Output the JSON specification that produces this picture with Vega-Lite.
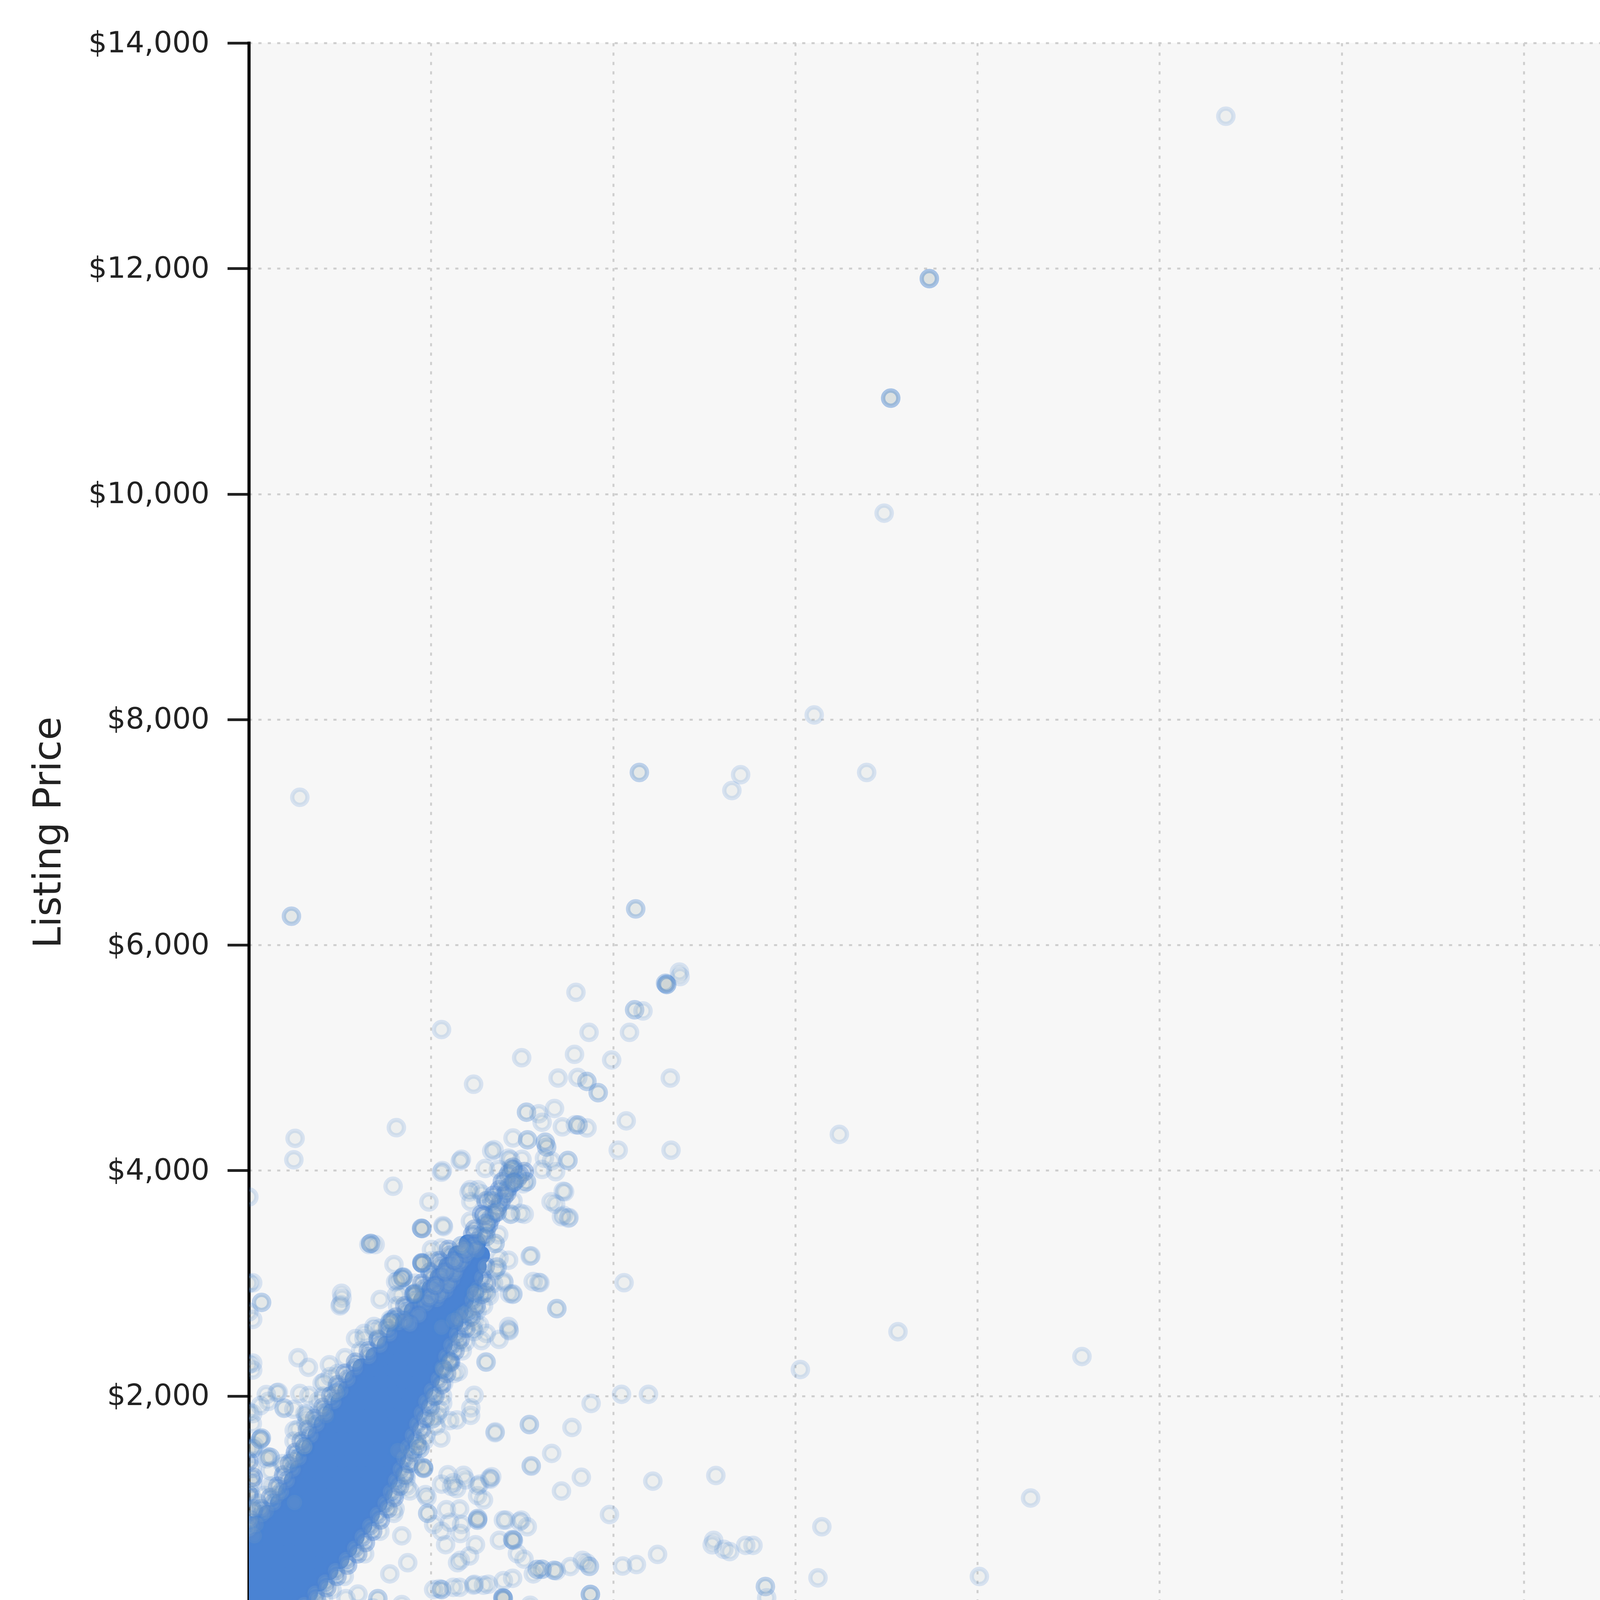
{
  "$schema": "https://vega.github.io/schema/vega-lite/v6.json",
  "width": 3721,
  "height": 4041,
  "autosize": {"type": "none"},
  "padding": {"left": 637, "top": 110, "right": 79, "bottom": 864},
  "background": "white",
  "title": {
    "text": "■parcl\u00a0\u00a0\u00a0\u00a0\u00a0\u00a0\u00a0",
    "subtitle": "labs",
    "orient": "bottom",
    "anchor": "end",
    "frame": "group",
    "font": "DejaVu Sans",
    "fontSize": 200,
    "fontWeight": "bold",
    "color": "#80a6e3",
    "subtitleFont": "DejaVu Sans",
    "subtitleFontSize": 200,
    "subtitleFontWeight": 200,
    "subtitleColor": "#555555",
    "subtitlePadding": -200,
    "offset": 150
  },
  "datasets": {
    "core": [
      {"sales":0,"listing":50},{"sales":137,"listing":50},{"sales":273,"listing":50},{"sales":410,"listing":50},{"sales":520,"listing":50},
      {"sales":0,"listing":150},{"sales":140,"listing":150},{"sales":280,"listing":150},{"sales":420,"listing":150},{"sales":560,"listing":150},{"sales":670,"listing":150},
      {"sales":0,"listing":250},{"sales":142,"listing":250},{"sales":284,"listing":250},{"sales":426,"listing":250},{"sales":568,"listing":250},{"sales":710,"listing":250},{"sales":820,"listing":250},
      {"sales":0,"listing":350},{"sales":142,"listing":350},{"sales":283,"listing":350},{"sales":425,"listing":350},{"sales":567,"listing":350},{"sales":708,"listing":350},{"sales":850,"listing":350},{"sales":960,"listing":350},
      {"sales":0,"listing":450},{"sales":141,"listing":450},{"sales":283,"listing":450},{"sales":424,"listing":450},{"sales":566,"listing":450},{"sales":707,"listing":450},{"sales":849,"listing":450},{"sales":990,"listing":450},{"sales":1100,"listing":450},
      {"sales":0,"listing":550},{"sales":143,"listing":550},{"sales":285,"listing":550},{"sales":428,"listing":550},{"sales":570,"listing":550},{"sales":713,"listing":550},{"sales":855,"listing":550},{"sales":998,"listing":550},{"sales":1140,"listing":550},{"sales":1250,"listing":550},
      {"sales":0,"listing":650},{"sales":139,"listing":650},{"sales":278,"listing":650},{"sales":417,"listing":650},{"sales":556,"listing":650},{"sales":696,"listing":650},{"sales":835,"listing":650},{"sales":974,"listing":650},{"sales":1113,"listing":650},{"sales":1252,"listing":650},{"sales":1360,"listing":650},
      {"sales":0,"listing":750},{"sales":136,"listing":750},{"sales":271,"listing":750},{"sales":407,"listing":750},{"sales":542,"listing":750},{"sales":678,"listing":750},{"sales":814,"listing":750},{"sales":949,"listing":750},{"sales":1085,"listing":750},{"sales":1220,"listing":750},{"sales":1356,"listing":750},{"sales":1460,"listing":750},
      {"sales":0,"listing":850},{"sales":110,"listing":850},{"sales":228,"listing":850},{"sales":382,"listing":850},{"sales":536,"listing":850},{"sales":690,"listing":850},{"sales":844,"listing":850},{"sales":998,"listing":850},{"sales":1152,"listing":850},{"sales":1306,"listing":850},{"sales":1460,"listing":850},{"sales":1565,"listing":850},
      {"sales":260,"listing":950},{"sales":384,"listing":950},{"sales":532,"listing":950},{"sales":680,"listing":950},{"sales":827,"listing":950},{"sales":975,"listing":950},{"sales":1123,"listing":950},{"sales":1270,"listing":950},{"sales":1418,"listing":950},{"sales":1565,"listing":950},{"sales":1670,"listing":950},
      {"sales":420,"listing":1050},{"sales":540,"listing":1050},{"sales":681,"listing":1050},{"sales":823,"listing":1050},{"sales":964,"listing":1050},{"sales":1105,"listing":1050},{"sales":1246,"listing":1050},{"sales":1388,"listing":1050},{"sales":1529,"listing":1050},{"sales":1670,"listing":1050},{"sales":1775,"listing":1050},
      {"sales":530,"listing":1150},{"sales":648,"listing":1150},{"sales":785,"listing":1150},{"sales":922,"listing":1150},{"sales":1059,"listing":1150},{"sales":1195,"listing":1150},{"sales":1332,"listing":1150},{"sales":1469,"listing":1150},{"sales":1606,"listing":1150},{"sales":1743,"listing":1150},{"sales":1845,"listing":1150},
      {"sales":610,"listing":1250},{"sales":728,"listing":1250},{"sales":864,"listing":1250},{"sales":1000,"listing":1250},{"sales":1136,"listing":1250},{"sales":1271,"listing":1250},{"sales":1407,"listing":1250},{"sales":1543,"listing":1250},{"sales":1679,"listing":1250},{"sales":1815,"listing":1250},{"sales":1915,"listing":1250},
      {"sales":690,"listing":1350},{"sales":808,"listing":1350},{"sales":942,"listing":1350},{"sales":1075,"listing":1350},{"sales":1209,"listing":1350},{"sales":1343,"listing":1350},{"sales":1477,"listing":1350},{"sales":1610,"listing":1350},{"sales":1744,"listing":1350},{"sales":1878,"listing":1350},{"sales":1980,"listing":1350},
      {"sales":770,"listing":1450},{"sales":889,"listing":1450},{"sales":1019,"listing":1450},{"sales":1149,"listing":1450},{"sales":1279,"listing":1450},{"sales":1410,"listing":1450},{"sales":1540,"listing":1450},{"sales":1670,"listing":1450},{"sales":1800,"listing":1450},{"sales":1930,"listing":1450},{"sales":2030,"listing":1450},
      {"sales":850,"listing":1550},{"sales":969,"listing":1550},{"sales":1114,"listing":1550},{"sales":1259,"listing":1550},{"sales":1404,"listing":1550},{"sales":1550,"listing":1550},{"sales":1695,"listing":1550},{"sales":1840,"listing":1550},{"sales":1985,"listing":1550},{"sales":2085,"listing":1550},
      {"sales":935,"listing":1650},{"sales":1052,"listing":1650},{"sales":1194,"listing":1650},{"sales":1336,"listing":1650},{"sales":1478,"listing":1650},{"sales":1619,"listing":1650},{"sales":1761,"listing":1650},{"sales":1903,"listing":1650},{"sales":2045,"listing":1650},{"sales":2145,"listing":1650},
      {"sales":1020,"listing":1750},{"sales":1135,"listing":1750},{"sales":1274,"listing":1750},{"sales":1413,"listing":1750},{"sales":1551,"listing":1750},{"sales":1690,"listing":1750},{"sales":1829,"listing":1750},{"sales":1967,"listing":1750},{"sales":2106,"listing":1750},{"sales":2205,"listing":1750},
      {"sales":1135,"listing":1850},{"sales":1252,"listing":1850},{"sales":1405,"listing":1850},{"sales":1557,"listing":1850},{"sales":1710,"listing":1850},{"sales":1863,"listing":1850},{"sales":2015,"listing":1850},{"sales":2168,"listing":1850},{"sales":2268,"listing":1850},
      {"sales":1250,"listing":1950},{"sales":1367,"listing":1950},{"sales":1511,"listing":1950},{"sales":1655,"listing":1950},{"sales":1799,"listing":1950},{"sales":1942,"listing":1950},{"sales":2086,"listing":1950},{"sales":2230,"listing":1950},{"sales":2330,"listing":1950},
      {"sales":1345,"listing":2050},{"sales":1462,"listing":2050},{"sales":1603,"listing":2050},{"sales":1744,"listing":2050},{"sales":1885,"listing":2050},{"sales":2026,"listing":2050},{"sales":2167,"listing":2050},{"sales":2308,"listing":2050},{"sales":2405,"listing":2050},
      {"sales":1445,"listing":2150},{"sales":1560,"listing":2150},{"sales":1700,"listing":2150},{"sales":1840,"listing":2150},{"sales":1980,"listing":2150},{"sales":2120,"listing":2150},{"sales":2260,"listing":2150},{"sales":2400,"listing":2150},{"sales":2495,"listing":2150},
      {"sales":1550,"listing":2250},{"sales":1663,"listing":2250},{"sales":1821,"listing":2250},{"sales":1979,"listing":2250},{"sales":2137,"listing":2250},{"sales":2295,"listing":2250},{"sales":2453,"listing":2250},{"sales":2550,"listing":2250},
      {"sales":1730,"listing":2350},{"sales":1846,"listing":2350},{"sales":1978,"listing":2350},{"sales":2110,"listing":2350},{"sales":2241,"listing":2350},{"sales":2373,"listing":2350},{"sales":2505,"listing":2350},{"sales":2600,"listing":2350},
      {"sales":1885,"listing":2450},{"sales":2001,"listing":2450},{"sales":2144,"listing":2450},{"sales":2287,"listing":2450},{"sales":2430,"listing":2450},{"sales":2573,"listing":2450},{"sales":2668,"listing":2450},
      {"sales":2015,"listing":2550},{"sales":2131,"listing":2550},{"sales":2261,"listing":2550},{"sales":2391,"listing":2550},{"sales":2521,"listing":2550},{"sales":2651,"listing":2550},{"sales":2745,"listing":2550},
      {"sales":2140,"listing":2650},{"sales":2255,"listing":2650},{"sales":2412,"listing":2650},{"sales":2568,"listing":2650},{"sales":2725,"listing":2650},{"sales":2818,"listing":2650},
      {"sales":2255,"listing":2750},{"sales":2368,"listing":2750},{"sales":2511,"listing":2750},{"sales":2653,"listing":2750},{"sales":2796,"listing":2750},{"sales":2888,"listing":2750},
      {"sales":2385,"listing":2850},{"sales":2496,"listing":2850},{"sales":2620,"listing":2850},{"sales":2744,"listing":2850},{"sales":2868,"listing":2850},{"sales":2960,"listing":2850},
      {"sales":2500,"listing":2950},{"sales":2611,"listing":2950},{"sales":2775,"listing":2950},{"sales":2939,"listing":2950},{"sales":3030,"listing":2950},
      {"sales":2610,"listing":3050},{"sales":2718,"listing":3050},{"sales":2858,"listing":3050},{"sales":2999,"listing":3050},{"sales":3090,"listing":3050},
      {"sales":2730,"listing":3150},{"sales":2836,"listing":3150},{"sales":2941,"listing":3150},{"sales":3046,"listing":3150},{"sales":3135,"listing":3150},
      {"sales":2860,"listing":3250},{"sales":2964,"listing":3250},{"sales":3090,"listing":3250},{"sales":3180,"listing":3250},
      {"sales":3010,"listing":3350},{"sales":3120,"listing":3350}
    ],
    "fringe": [
      {"sales":610,"listing":50},{"sales":760,"listing":150},{"sales":910,"listing":250},{"sales":1050,"listing":350},{"sales":1190,"listing":450},{"sales":1340,"listing":550},
      {"sales":1452,"listing":650},{"sales":1556,"listing":750},{"sales":1660,"listing":850},{"sales":1765,"listing":950},{"sales":1870,"listing":1050},{"sales":1943,"listing":1150},
      {"sales":2015,"listing":1250},{"sales":2078,"listing":1350},{"sales":2130,"listing":1450},{"sales":2185,"listing":1550},{"sales":2245,"listing":1650},{"sales":2306,"listing":1750},
      {"sales":2368,"listing":1850},{"sales":2430,"listing":1950},{"sales":2508,"listing":2050},{"sales":2600,"listing":2150},{"sales":2653,"listing":2250},{"sales":2705,"listing":2350},
      {"sales":2773,"listing":2450},{"sales":2851,"listing":2550},{"sales":2925,"listing":2650},{"sales":2996,"listing":2750},{"sales":3068,"listing":2850},{"sales":3139,"listing":2950},
      {"sales":3199,"listing":3050},{"sales":3246,"listing":3150},
      {"sales":775,"listing":100},{"sales":925,"listing":200},{"sales":1070,"listing":300},{"sales":1210,"listing":400},{"sales":1355,"listing":500},{"sales":1495,"listing":600},
      {"sales":1600,"listing":700},{"sales":1700,"listing":800},{"sales":1805,"listing":900},{"sales":1910,"listing":1000},{"sales":1995,"listing":1100},{"sales":2070,"listing":1200},
      {"sales":2135,"listing":1300},{"sales":2195,"listing":1400},{"sales":2250,"listing":1500},{"sales":2305,"listing":1600},{"sales":2365,"listing":1700},{"sales":2425,"listing":1800},
      {"sales":2490,"listing":1900},{"sales":2555,"listing":2000},{"sales":2645,"listing":2100},{"sales":2715,"listing":2200},{"sales":2770,"listing":2300},{"sales":2830,"listing":2400},
      {"sales":2900,"listing":2500},{"sales":2980,"listing":2600},{"sales":3050,"listing":2700},{"sales":3120,"listing":2800},{"sales":3195,"listing":2900},{"sales":3260,"listing":3000},
      {"sales":28,"listing":850},{"sales":184,"listing":950},{"sales":340,"listing":1050},{"sales":448,"listing":1150},{"sales":528,"listing":1250},{"sales":608,"listing":1350},
      {"sales":689,"listing":1450},{"sales":769,"listing":1550},{"sales":852,"listing":1650},{"sales":935,"listing":1750},{"sales":1052,"listing":1850},{"sales":1167,"listing":1950},
      {"sales":1262,"listing":2050},{"sales":1360,"listing":2150},{"sales":1463,"listing":2250},{"sales":1646,"listing":2350},{"sales":1801,"listing":2450},{"sales":1931,"listing":2550},
      {"sales":2055,"listing":2650},{"sales":2168,"listing":2750},{"sales":2296,"listing":2850},{"sales":2411,"listing":2950},{"sales":2518,"listing":3050},{"sales":2636,"listing":3150},
      {"sales":2764,"listing":3250},
      {"sales":16,"listing":900},{"sales":170,"listing":1000},{"sales":300,"listing":1100},{"sales":398,"listing":1200},{"sales":478,"listing":1300},{"sales":558,"listing":1400},
      {"sales":640,"listing":1500},{"sales":720,"listing":1600},{"sales":804,"listing":1700},{"sales":904,"listing":1800},{"sales":1020,"listing":1900},{"sales":1125,"listing":2000},
      {"sales":1220,"listing":2100},{"sales":1320,"listing":2200},{"sales":1465,"listing":2300},{"sales":1640,"listing":2400},{"sales":1776,"listing":2500},{"sales":1903,"listing":2600},
      {"sales":2020,"listing":2700},{"sales":2142,"listing":2800},{"sales":2263,"listing":2900},{"sales":2375,"listing":3000},{"sales":2487,"listing":3100},{"sales":2610,"listing":3200},
      {"sales":2740,"listing":3300},
      {"sales":0,"listing":820},{"sales":60,"listing":980},{"sales":0,"listing":1120},{"sales":60,"listing":1280},{"sales":0,"listing":1420},
      {"sales":2580,"listing":2856},{"sales":2703,"listing":2935},{"sales":2795,"listing":3035},{"sales":2857,"listing":3134},{"sales":2949,"listing":3214},{"sales":3041,"listing":3293},
      {"sales":3134,"listing":3373},{"sales":3257,"listing":3472},{"sales":3318,"listing":3572},{"sales":3411,"listing":3671},{"sales":3503,"listing":3771},{"sales":3565,"listing":3850},
      {"sales":3688,"listing":3930},{"sales":3780,"listing":3990},{"sales":3626,"listing":4029},{"sales":3565,"listing":3970},{"sales":3441,"listing":3830},{"sales":3257,"listing":3731},
      {"sales":3195,"listing":3612},{"sales":3072,"listing":3433},{"sales":2888,"listing":3254},{"sales":2764,"listing":3154},{"sales":2641,"listing":3055},{"sales":2518,"listing":2935},
      {"sales":2426,"listing":2816},{"sales":2333,"listing":2717},{"sales":2210,"listing":2637},
      {"sales":2620,"listing":2900},{"sales":2740,"listing":2990},{"sales":2830,"listing":3090},{"sales":2900,"listing":3180},{"sales":2990,"listing":3260},{"sales":3090,"listing":3330},
      {"sales":3190,"listing":3420},{"sales":3290,"listing":3520},{"sales":3370,"listing":3620},{"sales":3460,"listing":3720},{"sales":3540,"listing":3800},{"sales":3620,"listing":3890},
      {"sales":3720,"listing":3960},{"sales":2480,"listing":2870},{"sales":2560,"listing":2980},{"sales":2690,"listing":3100},{"sales":2820,"listing":3200},{"sales":2960,"listing":3300},
      {"sales":3100,"listing":3480},{"sales":3230,"listing":3600},{"sales":3360,"listing":3780},{"sales":3480,"listing":3900}
    ],
    "scatter": [
      {"sales":13410,"listing":13350},
      {"sales":9340,"listing":11910},{"sales":9340,"listing":11910},{"sales":9340,"listing":11910},
      {"sales":8810,"listing":10850},{"sales":8810,"listing":10850},{"sales":8810,"listing":10850},
      {"sales":8720,"listing":9830},{"sales":7760,"listing":8040},{"sales":8480,"listing":7530},
      {"sales":6750,"listing":7510},{"sales":6630,"listing":7370},
      {"sales":5360,"listing":7530},{"sales":5360,"listing":7530},
      {"sales":700,"listing":7310},
      {"sales":585,"listing":6255},{"sales":585,"listing":6255},
      {"sales":5310,"listing":6320},{"sales":5310,"listing":6320},
      {"sales":5910,"listing":5760},
      {"sales":5720,"listing":5660},{"sales":5720,"listing":5660},
      {"sales":4490,"listing":5580},
      {"sales":5295,"listing":5425},{"sales":5295,"listing":5425},
      {"sales":5410,"listing":5415},{"sales":2645,"listing":5250},{"sales":4670,"listing":5225},{"sales":5225,"listing":5225},
      {"sales":4980,"listing":4980},{"sales":3085,"listing":4765},{"sales":5785,"listing":4820},
      {"sales":4640,"listing":4790},{"sales":4640,"listing":4790},
      {"sales":4795,"listing":4690},{"sales":4795,"listing":4690},
      {"sales":3745,"listing":5000},{"sales":4470,"listing":5030},{"sales":4245,"listing":4820},{"sales":4515,"listing":4825},
      {"sales":5180,"listing":4440},{"sales":5070,"listing":4180},{"sales":5795,"listing":4180},{"sales":8105,"listing":4320},
      {"sales":2025,"listing":4380},{"sales":635,"listing":4285},{"sales":618,"listing":4095},{"sales":0,"listing":3765},{"sales":1980,"listing":3860},
      {"sales":8910,"listing":2570},{"sales":11435,"listing":2350},{"sales":7570,"listing":2235},
      {"sales":175,"listing":2830},{"sales":175,"listing":2830},
      {"sales":5150,"listing":3005},{"sales":5485,"listing":2015},{"sales":5115,"listing":2015},{"sales":6410,"listing":1295},{"sales":5545,"listing":1245},
      {"sales":10730,"listing":1095},{"sales":4950,"listing":948},{"sales":7865,"listing":840},
      {"sales":6380,"listing":720},{"sales":6360,"listing":680},{"sales":6520,"listing":640},{"sales":6600,"listing":620},{"sales":6920,"listing":675},{"sales":6820,"listing":675},
      {"sales":5610,"listing":595},{"sales":5320,"listing":505},{"sales":5130,"listing":492},
      {"sales":7090,"listing":310},{"sales":7090,"listing":310},{"sales":7108,"listing":210},{"sales":7812,"listing":387},{"sales":10027,"listing":399},{"sales":19007,"listing":321},
      {"sales":4688,"listing":240},{"sales":4688,"listing":240},{"sales":4688,"listing":240},
      {"sales":3487,"listing":210},{"sales":3487,"listing":210},{"sales":3487,"listing":210},
      {"sales":4190,"listing":454},{"sales":4190,"listing":454},
      {"sales":4025,"listing":463},{"sales":4025,"listing":463},
      {"sales":4636,"listing":520},{"sales":4413,"listing":487},{"sales":3777,"listing":553},
      {"sales":5735,"listing":5650},{"sales":5735,"listing":5650},{"sales":5735,"listing":5650},{"sales":5919,"listing":5720},
      {"sales":3811,"listing":4517},{"sales":3811,"listing":4517},{"sales":3980,"listing":4503},{"sales":4196,"listing":4550},{"sales":4026,"listing":4427},{"sales":4303,"listing":4387},
      {"sales":4519,"listing":4403},{"sales":4519,"listing":4403},{"sales":4642,"listing":4377},{"sales":3626,"listing":4288},
      {"sales":3826,"listing":4272},{"sales":3826,"listing":4272},{"sales":4088,"listing":4208},{"sales":4088,"listing":4208},{"sales":4057,"listing":4109},
      {"sales":4380,"listing":4089},{"sales":4380,"listing":4089},{"sales":3334,"listing":4172},{"sales":3565,"listing":4109},{"sales":3749,"listing":4099},
      {"sales":2918,"listing":4099},{"sales":2657,"listing":3999},
      {"sales":3626,"listing":4009},{"sales":3626,"listing":4009},{"sales":3426,"listing":4009},{"sales":3811,"listing":3900},{"sales":3811,"listing":3900},{"sales":3534,"listing":3940},
      {"sales":4026,"listing":4009},{"sales":4211,"listing":3989},{"sales":4334,"listing":3811},{"sales":4211,"listing":3701},{"sales":4319,"listing":3602},{"sales":4396,"listing":3582},
      {"sales":3534,"listing":3820},{"sales":3334,"listing":3731},{"sales":3334,"listing":3731},{"sales":3626,"listing":3731},{"sales":3780,"listing":3612},
      {"sales":3041,"listing":3830},{"sales":3195,"listing":3791},{"sales":2472,"listing":3721},
      {"sales":3595,"listing":3612},{"sales":3595,"listing":3612},{"sales":3411,"listing":3632},{"sales":3411,"listing":3632},{"sales":3257,"listing":3532},{"sales":3257,"listing":3532},
      {"sales":3041,"listing":3552},{"sales":2672,"listing":3502},{"sales":2370,"listing":3488},{"sales":2370,"listing":3488},
      {"sales":1672,"listing":3353},{"sales":1672,"listing":3353},{"sales":1672,"listing":3353},
      {"sales":3257,"listing":3413},{"sales":3257,"listing":3413},{"sales":3380,"listing":3353},{"sales":3380,"listing":3353},{"sales":2918,"listing":3333},{"sales":2918,"listing":3333},
      {"sales":3134,"listing":3293},{"sales":2641,"listing":3313},{"sales":3565,"listing":3204},{"sales":3872,"listing":3244},{"sales":3411,"listing":3144},
      {"sales":2380,"listing":3174},{"sales":2380,"listing":3174},{"sales":2118,"listing":3055},{"sales":2118,"listing":3055},{"sales":2272,"listing":2906},{"sales":2026,"listing":2896},
      {"sales":3257,"listing":2916},{"sales":3257,"listing":2916},{"sales":3503,"listing":3005},{"sales":3626,"listing":2906},{"sales":3996,"listing":3005},{"sales":3903,"listing":3015},{"sales":4226,"listing":2776},
      {"sales":1718,"listing":2617},{"sales":1964,"listing":2677},{"sales":3134,"listing":2756},{"sales":3565,"listing":2617},
      {"sales":53,"listing":3004},{"sales":53,"listing":2679},{"sales":1273,"listing":2911},{"sales":1261,"listing":2811},
      {"sales":2374,"listing":3182},{"sales":2374,"listing":3182},{"sales":2111,"listing":3050},{"sales":2111,"listing":3050},{"sales":2015,"listing":3012},
      {"sales":2278,"listing":2911},{"sales":2278,"listing":2911},{"sales":2087,"listing":2896},{"sales":1967,"listing":2664},{"sales":1967,"listing":2664},{"sales":2134,"listing":2671},
      {"sales":3403,"listing":3143},{"sales":3498,"listing":3019},{"sales":3570,"listing":2586},{"sales":3092,"listing":2664},{"sales":3259,"listing":2555},{"sales":3092,"listing":2571},
      {"sales":2972,"listing":2478},{"sales":2876,"listing":2695},{"sales":2757,"listing":2308},{"sales":2757,"listing":2308},{"sales":2876,"listing":2215},{"sales":3259,"listing":2300},
      {"sales":3044,"listing":1828},{"sales":3379,"listing":1674},{"sales":3092,"listing":2006},{"sales":2661,"listing":1937},{"sales":2757,"listing":1782},{"sales":2589,"listing":1828},
      {"sales":2637,"listing":1627},{"sales":2350,"listing":1534},{"sales":2350,"listing":1534},{"sales":2398,"listing":1364},{"sales":2398,"listing":1364},
      {"sales":2733,"listing":1302},{"sales":2972,"listing":1256},{"sales":3307,"listing":1271},{"sales":2852,"listing":1179},{"sales":3140,"listing":1116},
      {"sales":2206,"listing":1457},{"sales":2158,"listing":1271},{"sales":2015,"listing":1148},{"sales":2446,"listing":1101},
      {"sales":1465,"listing":2509},{"sales":1584,"listing":2555},{"sales":1775,"listing":2509},{"sales":1943,"listing":2679},
      {"sales":675,"listing":2339},{"sales":818,"listing":2254},{"sales":1106,"listing":2277},{"sales":1321,"listing":2339},{"sales":1034,"listing":2122},
      {"sales":1201,"listing":2029},{"sales":1201,"listing":2029},{"sales":388,"listing":2029},{"sales":699,"listing":2022},{"sales":483,"listing":1890},{"sales":268,"listing":1952},
      {"sales":770,"listing":1844},{"sales":962,"listing":1859},{"sales":675,"listing":1705},{"sales":172,"listing":1627},{"sales":172,"listing":1627},
      {"sales":770,"listing":1550},{"sales":770,"listing":1550},{"sales":292,"listing":1457},{"sales":603,"listing":1441},
      {"sales":53,"listing":1534},{"sales":53,"listing":1534},{"sales":53,"listing":1844},{"sales":53,"listing":2230},{"sales":53,"listing":2292},
      {"sales":388,"listing":1117},{"sales":53,"listing":1225},{"sales":627,"listing":1055},
      {"sales":1279,"listing":2868},{"sales":1252,"listing":2799},{"sales":3193,"listing":2491},{"sales":2947,"listing":2729},{"sales":3303,"listing":2888},{"sales":3576,"listing":2908},
      {"sales":3850,"listing":1745},{"sales":3877,"listing":1377},{"sales":2947,"listing":1297},{"sales":3166,"listing":1218},{"sales":3221,"listing":1078},{"sales":2893,"listing":999},
      {"sales":2783,"listing":1198},{"sales":2646,"listing":1218},{"sales":2537,"listing":860},{"sales":2756,"listing":880},{"sales":2920,"listing":860},
      {"sales":3139,"listing":899},{"sales":3139,"listing":899},{"sales":3494,"listing":899},{"sales":3740,"listing":899},{"sales":3822,"listing":840},
      {"sales":3631,"listing":720},{"sales":3631,"listing":720},{"sales":3439,"listing":720},{"sales":3686,"listing":601},{"sales":3905,"listing":422},
      {"sales":3959,"listing":462},{"sales":3959,"listing":462},{"sales":3494,"listing":362},{"sales":3494,"listing":203},{"sales":3494,"listing":203},
      {"sales":3221,"listing":322},{"sales":3084,"listing":322},{"sales":2893,"listing":303},{"sales":2646,"listing":283},{"sales":2646,"listing":283},{"sales":2537,"listing":283},
      {"sales":2865,"listing":521},{"sales":3029,"listing":581},{"sales":3111,"listing":681},{"sales":2701,"listing":681},{"sales":2646,"listing":800},
      {"sales":2455,"listing":959},{"sales":2455,"listing":959},{"sales":2400,"listing":1357},{"sales":2400,"listing":1357},{"sales":2318,"listing":1556},{"sales":2318,"listing":1556},
      {"sales":2209,"listing":1158},{"sales":2154,"listing":1297},{"sales":2045,"listing":1516},{"sales":2181,"listing":521},{"sales":2099,"listing":760},{"sales":1990,"listing":959},
      {"sales":1935,"listing":422},{"sales":1771,"listing":203},{"sales":1771,"listing":203},{"sales":1498,"listing":243},{"sales":1334,"listing":203},{"sales":1142,"listing":283},
      {"sales":951,"listing":163},{"sales":623,"listing":44},
      {"sales":2646,"listing":2610},{"sales":2811,"listing":2670},{"sales":3084,"listing":2769},{"sales":3166,"listing":2630},{"sales":2865,"listing":2471},{"sales":2756,"listing":2292},
      {"sales":2674,"listing":2113},{"sales":2537,"listing":1993},{"sales":2619,"listing":1874},{"sales":2510,"listing":1794},{"sales":2428,"listing":1655},
      {"sales":1717,"listing":2590},{"sales":1935,"listing":2650},{"sales":1935,"listing":2650},{"sales":1580,"listing":2510},
      {"sales":404,"listing":2033},{"sales":240,"listing":2013},{"sales":486,"listing":1894},{"sales":158,"listing":1914},{"sales":76,"listing":1556},
      {"sales":158,"listing":1615},{"sales":158,"listing":1615},{"sales":48,"listing":1755},{"sales":48,"listing":1098},{"sales":212,"listing":1118},{"sales":349,"listing":1178},
      {"sales":240,"listing":979},{"sales":76,"listing":760},{"sales":48,"listing":1357},{"sales":294,"listing":1456},{"sales":486,"listing":1377},{"sales":623,"listing":1436},
      {"sales":623,"listing":1695},{"sales":787,"listing":1755},{"sales":787,"listing":1834},{"sales":951,"listing":1954},{"sales":1006,"listing":2113},{"sales":1115,"listing":2172},
      {"sales":4229,"listing":2774},{"sales":3573,"listing":2578},{"sales":3253,"listing":2302},{"sales":3861,"listing":3240},{"sales":3980,"listing":3007},{"sales":4148,"listing":3723},
      {"sales":4291,"listing":3590},{"sales":4387,"listing":3577},{"sales":4315,"listing":3816},{"sales":3621,"listing":2901},{"sales":3382,"listing":3113},
      {"sales":3095,"listing":2914},{"sales":3095,"listing":2914},{"sales":4698,"listing":1934},{"sales":3851,"listing":1748},{"sales":4435,"listing":1721},{"sales":3382,"listing":1682},
      {"sales":4157,"listing":1491},{"sales":3875,"listing":1382},{"sales":4564,"listing":1279},{"sales":4291,"listing":1157},
      {"sales":4674,"listing":489},{"sales":4674,"listing":489},{"sales":4219,"listing":449},
      {"sales":3621,"listing":727},{"sales":3621,"listing":727},{"sales":3717,"listing":886},{"sales":3526,"listing":900},{"sales":3334,"listing":1284},{"sales":3142,"listing":1205},
      {"sales":3142,"listing":913},{"sales":3142,"listing":913},{"sales":2903,"listing":542},{"sales":3286,"listing":330},{"sales":3095,"listing":330},{"sales":2616,"listing":290},
      {"sales":2807,"listing":303},{"sales":3621,"listing":383},{"sales":3861,"listing":144},{"sales":4579,"listing":542},{"sales":2712,"listing":992},{"sales":2807,"listing":1231},
      {"sales":2424,"listing":1125},{"sales":2903,"listing":780},{"sales":2664,"listing":2238},{"sales":2664,"listing":2238},{"sales":3047,"listing":1894},{"sales":2855,"listing":1788},
      {"sales":2568,"listing":1735},{"sales":3430,"listing":3431},{"sales":3765,"listing":3882},{"sales":3143,"listing":3829},{"sales":3047,"listing":3723},{"sales":2664,"listing":3511},
      {"sales":2377,"listing":3484},{"sales":2377,"listing":3484},{"sales":2377,"listing":3179},{"sales":2377,"listing":3179},{"sales":2089,"listing":3034},{"sales":2281,"listing":2901},
      {"sales":246,"listing":1443},{"sales":294,"listing":1337},
      {"sales":3314,"listing":1262},{"sales":3434,"listing":2502},{"sales":3726,"listing":3620},{"sales":3434,"listing":3221},{"sales":4155,"listing":4085},{"sales":4481,"listing":4406},
      {"sales":4069,"listing":4251},{"sales":4069,"listing":4251},{"sales":3589,"listing":4018},{"sales":3640,"listing":3897},{"sales":3640,"listing":3897},{"sales":3245,"listing":4018},
      {"sales":3022,"listing":3808},{"sales":3365,"listing":4184},{"sales":3589,"listing":4096},{"sales":2902,"listing":4085},{"sales":2644,"listing":3985},{"sales":2507,"listing":3299},
      {"sales":1648,"listing":3343},{"sales":1734,"listing":3343},{"sales":1992,"listing":3166},{"sales":2043,"listing":3022},{"sales":1803,"listing":2856},{"sales":824,"listing":2004},
      {"sales":0,"listing":3000},{"sales":0,"listing":2745},{"sales":0,"listing":2280},{"sales":0,"listing":1860},{"sales":0,"listing":1528},{"sales":258,"listing":1461},
      {"sales":618,"listing":1882},{"sales":1065,"listing":1827},
      {"sales":20,"listing":900},{"sales":40,"listing":1000},{"sales":10,"listing":1150},{"sales":30,"listing":1250},{"sales":100,"listing":860},{"sales":120,"listing":1050},
      {"sales":700,"listing":30},{"sales":900,"listing":60},{"sales":1100,"listing":40},{"sales":1300,"listing":90},{"sales":1500,"listing":50},{"sales":1700,"listing":120},
      {"sales":1900,"listing":60},{"sales":2100,"listing":150},{"sales":2300,"listing":80},
      {"sales":72,"listing":1000},{"sales":298,"listing":1200},{"sales":458,"listing":1400},{"sales":620,"listing":1600},{"sales":803,"listing":1800},{"sales":1025,"listing":2000},
      {"sales":1221,"listing":2200},{"sales":1533,"listing":2400},{"sales":1803,"listing":2600},{"sales":2042,"listing":2800},{"sales":2275,"listing":3000},{"sales":2510,"listing":3200},
      {"sales":730,"listing":0},{"sales":1025,"listing":200},{"sales":1310,"listing":400},{"sales":1590,"listing":600},{"sales":1798,"listing":800},{"sales":2008,"listing":1000},
      {"sales":2169,"listing":1200},{"sales":2294,"listing":1400},{"sales":2405,"listing":1600},{"sales":2527,"listing":1800},{"sales":2659,"listing":2000},{"sales":2816,"listing":2200},
      {"sales":2929,"listing":2400},{"sales":3078,"listing":2600},{"sales":3222,"listing":2800},{"sales":3359,"listing":3000}
    ]
  },
  "encoding": {
    "x": {
      "field": "sales",
      "type": "quantitative",
      "title": "Sales Price",
      "scale": {"domain": [0, 19950], "nice": false, "zero": false},
      "axis": {
        "values": [0, 2500, 5000, 7500, 10000, 12500, 15000, 17500],
        "format": "$,.0f",
        "tickSize": 50,
        "tickWidth": 5,
        "labelPadding": 35,
        "titlePadding": 38,
        "labelFlush": false,
        "labelOverlap": false,
        "labelLimit": 0,
        "maxExtent": 1000
      }
    },
    "y": {
      "field": "listing",
      "type": "quantitative",
      "title": "Listing Price",
      "scale": {"domain": [0, 14000], "nice": false, "zero": false},
      "axis": {
        "values": [0, 2000, 4000, 6000, 8000, 10000, 12000, 14000],
        "format": "$,.0f",
        "tickSize": 55,
        "tickWidth": 7,
        "labelPadding": 46,
        "titlePadding": 50,
        "labelFlush": false,
        "labelOverlap": false,
        "labelLimit": 0,
        "maxExtent": 1000
      }
    }
  },
  "layer": [
    {
      "data": {"name": "core"},
      "mark": {"type": "circle", "size": 2376, "color": "#4a83d3", "opacity": 1, "strokeWidth": 0, "clip": true}
    },
    {
      "data": {"name": "fringe"},
      "mark": {
        "type": "point",
        "shape": "circle",
        "filled": true,
        "size": 1520,
        "fill": "#8fabc8",
        "fillOpacity": 0.3,
        "stroke": "#4a83d3",
        "strokeOpacity": 0.4,
        "strokeWidth": 11,
        "opacity": 1,
        "clip": true
      }
    },
    {
      "data": {"name": "scatter"},
      "mark": {
        "type": "point",
        "shape": "circle",
        "filled": true,
        "size": 1520,
        "fill": "#a3b8b8",
        "fillOpacity": 0.12,
        "stroke": "#4a83d3",
        "strokeOpacity": 0.18,
        "strokeWidth": 11,
        "opacity": 1,
        "clip": true
      }
    }
  ],
  "config": {
    "view": {"fill": "#f7f7f7", "stroke": null},
    "axis": {
      "labelFont": "DejaVu Sans",
      "labelFontSize": 75,
      "labelColor": "#222222",
      "titleFont": "DejaVu Sans",
      "titleFontSize": 98,
      "titleFontWeight": "normal",
      "titleColor": "#222222",
      "domainColor": "#000000",
      "domainWidth": 8,
      "domainCap": "square",
      "tickColor": "#222222",
      "grid": true,
      "gridColor": "#cfcfcf",
      "gridWidth": 5,
      "gridDash": [8, 16]
    }
  }
}
